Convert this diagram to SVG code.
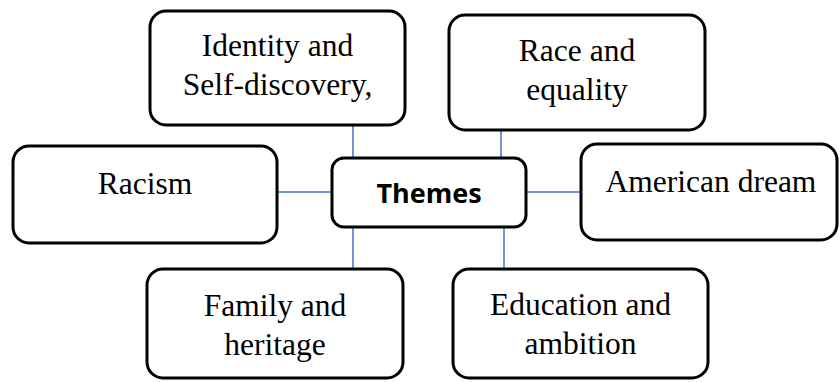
<svg xmlns="http://www.w3.org/2000/svg" width="840" height="382" viewBox="0 0 840 382">
<style>
.box{fill:#fff;stroke:#000;stroke-width:3}
.t{font-family:"Liberation Serif","Times New Roman",serif;font-size:31.5px;fill:#000;text-anchor:middle}
.b{font-family:"Open Sans","Noto Sans",sans-serif;font-size:27px;font-weight:bold;fill:#000;text-anchor:middle}
.c{stroke:#4472C4;stroke-width:1.5;fill:none}
</style>
<rect width="840" height="382" fill="#fff"/>
<g id="connectors">
<line class="c" x1="353" y1="125" x2="353" y2="160"/>
<line class="c" x1="501" y1="130" x2="501" y2="160"/>
<line class="c" x1="353" y1="227" x2="353" y2="269"/>
<line class="c" x1="504" y1="227" x2="504" y2="269"/>
<line class="c" x1="277" y1="192" x2="332" y2="192"/>
<line class="c" x1="526" y1="192" x2="581" y2="192"/>
</g>
<g id="identity">
<rect class="box" x="150" y="11" width="255" height="114" rx="16"/>
<text class="t" x="277.5" y="56">Identity and</text>
<text class="t" x="277.5" y="95">Self-discovery,</text>
</g>
<g id="race">
<rect class="box" x="449" y="15" width="256" height="115" rx="16"/>
<text class="t" x="577" y="61">Race and</text>
<text class="t" x="577" y="100">equality</text>
</g>
<g id="racism">
<rect class="box" x="13" y="146" width="264" height="97" rx="16"/>
<text class="t" x="145" y="194">Racism</text>
</g>
<g id="themes">
<rect class="box" x="332" y="158" width="194" height="69" rx="12"/>
<text class="b" x="429" y="203">Themes</text>
</g>
<g id="american">
<rect class="box" x="581" y="144" width="256" height="96" rx="16"/>
<text class="t" x="711" y="192">American dream</text>
</g>
<g id="family">
<rect class="box" x="147" y="269" width="256" height="109" rx="16"/>
<text class="t" x="275" y="316">Family and</text>
<text class="t" x="275" y="355">heritage</text>
</g>
<g id="education">
<rect class="box" x="453" y="269" width="255" height="109" rx="16"/>
<text class="t" x="580.5" y="315">Education and</text>
<text class="t" x="580.5" y="354">ambition</text>
</g>
</svg>
